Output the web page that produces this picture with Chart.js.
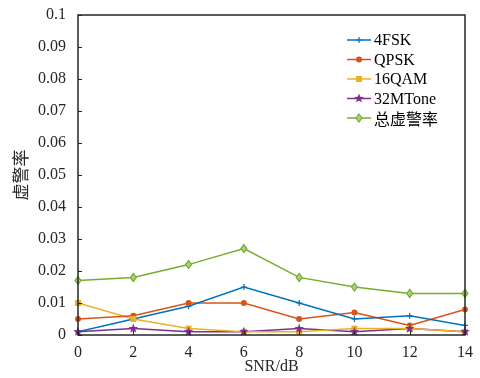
<!DOCTYPE html>
<html><head><meta charset="utf-8">
<script src="https://cdn.jsdelivr.net/npm/chart.js@4/dist/chart.umd.min.js"></script>
<style>html,body{margin:0;padding:0;background:#fff}#wrap{width:480px;height:378px}</style>
</head><body><div id="wrap"><canvas id="c"></canvas></div>
<script>
const snr = [0, 2, 4, 6, 8, 10, 12, 14];
const fsk4 = [0.001, 0.005, 0.009, 0.015, 0.010, 0.005, 0.006, 0.003];
const qpsk = [0.005, 0.006, 0.010, 0.010, 0.005, 0.007, 0.003, 0.008];
const qam16 = [0.010, 0.005, 0.002, 0.001, 0.001, 0.002, 0.002, 0.001];
const mtone32 = [0.001, 0.002, 0.001, 0.001, 0.002, 0.001, 0.002, 0.001];
const total = [0.017, 0.018, 0.022, 0.027, 0.018, 0.015, 0.013, 0.013];
const seriesNames = ['4FSK', 'QPSK', '16QAM', '32MTone', '总虚警率'];
const yTicks = [0, 0.01, 0.02, 0.03, 0.04, 0.05, 0.06, 0.07, 0.08, 0.09, 0.1];
const xTicks = [0, 2, 4, 6, 8, 10, 12, 14];

const colors = ['#0072BD', '#D95319', '#EDB120', '#7E2F8E', '#77AC30'];
const FONT = '"Liberation Serif", "Times New Roman", serif';

function drawMarker(ctx, type, x, y, color) {
  ctx.save();
  ctx.strokeStyle = color; ctx.fillStyle = color; ctx.lineWidth = 1.2;
  ctx.beginPath();
  if (type === 0) { ctx.moveTo(x-3,y); ctx.lineTo(x+3,y); ctx.moveTo(x,y-3); ctx.lineTo(x,y+3); ctx.stroke(); }
  else if (type === 1) { ctx.arc(x,y,3,0,Math.PI*2); ctx.fill(); }
  else if (type === 2) { ctx.rect(x-3,y-3,6,6); ctx.fill(); }
  else if (type === 3) {
    for (let i=0;i<10;i++){ const r = i%2===0?5:2.1; const a = -Math.PI/2 + i*Math.PI/5; const px=x+r*Math.cos(a), py=y+r*Math.sin(a); if(i===0) ctx.moveTo(px,py); else ctx.lineTo(px,py);} ctx.closePath(); ctx.fill();
  }
  else { ctx.moveTo(x,y-4); ctx.lineTo(x+3,y); ctx.lineTo(x,y+4); ctx.lineTo(x-3,y); ctx.closePath(); ctx.fillStyle='#a8d080'; ctx.fill(); ctx.stroke(); }
  ctx.restore();
}

const markerPlugin = {
  id: 'markers',
  afterDatasetsDraw(chart) {
    const ctx = chart.ctx;
    chart.data.datasets.forEach((ds, i) => {
      const meta = chart.getDatasetMeta(i);
      meta.data.forEach(pt => drawMarker(ctx, i, pt.x, pt.y, colors[i]));
    });
  },
  afterDraw(chart) {
    const ctx = chart.ctx, a = chart.chartArea;
    const xs = chart.scales.x, ys = chart.scales.y;
    ctx.save();
    ctx.strokeStyle = '#262626'; ctx.lineWidth = 1.5;
    ctx.strokeRect(a.left, a.top, a.right - a.left, a.bottom - a.top);
    ctx.lineWidth = 1;
    yTicks.forEach(v => { const y = Math.round(ys.getPixelForValue(v)) + 0.5;
      ctx.beginPath(); ctx.moveTo(a.left, y); ctx.lineTo(a.left + 4, y); ctx.stroke(); });
    xTicks.forEach(v => { const x = Math.round(xs.getPixelForValue(v)) + 0.5;
      ctx.beginPath(); ctx.moveTo(x, a.bottom); ctx.lineTo(x, a.bottom - 4); ctx.stroke(); });
    // legend
    const lx = 347, ly0 = 40, dy = 19.5;
    chart.data.datasets.forEach((ds, i) => {
      const y = ly0 + i * dy;
      ctx.strokeStyle = colors[i]; ctx.lineWidth = 1.5;
      ctx.beginPath(); ctx.moveTo(lx, y); ctx.lineTo(lx + 24, y); ctx.stroke();
      drawMarker(ctx, i, lx + 12, y, colors[i]);
      ctx.fillStyle = '#000';
      ctx.font = (i === 4 ? '16px "Noto Sans CJK SC"' : '16px ' + FONT);
      ctx.textBaseline = 'middle'; ctx.textAlign = 'left';
      ctx.fillText(ds.label, lx + 27, y + 1);
    });
    ctx.restore();
  }
};

const datasets = [fsk4, qpsk, qam16, mtone32, total].map((d, i) => ({
  label: seriesNames[i],
  data: snr.map((x, j) => ({ x: x, y: d[j] })),
  borderColor: colors[i], backgroundColor: colors[i],
  borderWidth: 1.5, pointRadius: 0, tension: 0
}));

new Chart(document.getElementById('c'), {
  type: 'line',
  data: { datasets },
  options: {
    responsive: true, maintainAspectRatio: false, animation: false,
    layout: { padding: { top: 15, right: 15, left: 0, bottom: 0 } },
    plugins: { legend: { display: false }, tooltip: { enabled: false } },
    scales: {
      x: {
        type: 'linear', min: 0, max: 14,
        afterBuildTicks: s => { s.ticks = xTicks.map(v => ({ value: v })); },
        afterFit: s => { s.height = 43; },
        grid: { display: false }, border: { display: false },
        ticks: { font: { family: FONT, size: 16 }, color: '#262626', padding: 0, maxRotation: 0 },
        title: { display: true, text: 'SNR/dB', font: { family: FONT, size: 16 }, color: '#262626', padding: { top: 0, bottom: 2 } }
      },
      y: {
        type: 'linear', min: 0, max: 0.1,
        afterBuildTicks: s => { s.ticks = yTicks.map(v => ({ value: v })); },
        afterFit: s => { s.width = 78; },
        grid: { display: false }, border: { display: false },
        ticks: { font: { family: FONT, size: 16 }, color: '#262626', padding: 4, callback: v => String(v) },
        title: { display: true, text: '虚警率', font: { family: '"Noto Sans CJK SC"', size: 17 }, color: '#262626', padding: { top: 10, bottom: 0 } }
      }
    }
  },
  plugins: [markerPlugin]
});
</script></body></html>
